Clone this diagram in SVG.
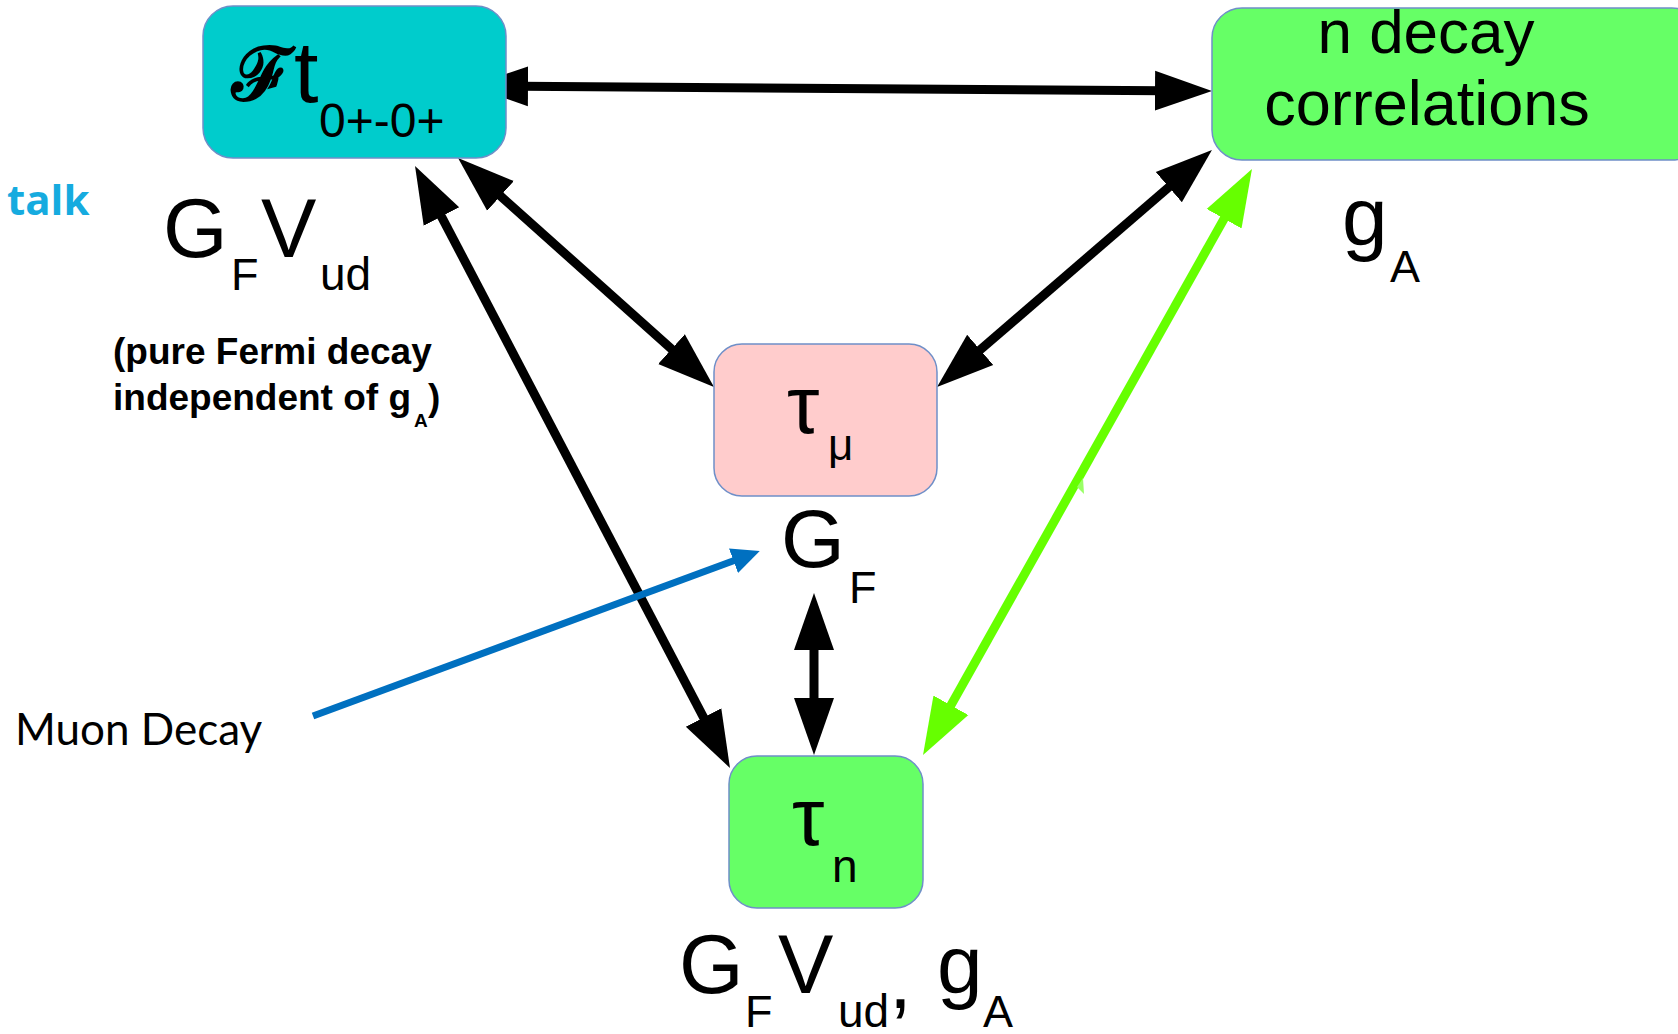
<svg xmlns="http://www.w3.org/2000/svg" width="1678" height="1034" viewBox="0 0 1678 1034">
<style>
.box{stroke:#6F8FC8;stroke-width:1.5}
.t{font-family:"Liberation Sans",Arial,sans-serif;fill:#000}
.blk{stroke:#000;stroke-width:9;fill:none}
.grn{stroke:#66FF00;stroke-width:9;fill:none}
.blu{stroke:#0070C0;stroke-width:7;fill:none}
.cal{font-family:Lato,"Open Sans",sans-serif}
</style>
<defs>
<marker id="ah" markerUnits="userSpaceOnUse" markerWidth="64" markerHeight="46" viewBox="0 -23 64 46" refX="7" refY="0" orient="auto-start-reverse">
<path d="M0,-20 L57,0 L0,20 z" fill="#000"/>
</marker>
<marker id="ahg" markerUnits="userSpaceOnUse" markerWidth="64" markerHeight="46" viewBox="0 -23 64 46" refX="7" refY="0" orient="auto-start-reverse">
<path d="M0,-20 L57,0 L0,20 z" fill="#66FF00"/>
</marker>
<marker id="ahb" markerUnits="userSpaceOnUse" markerWidth="36" markerHeight="32" viewBox="0 -16 36 32" refX="8" refY="0" orient="auto">
<path d="M0,-13 L28,0 L0,13 z" fill="#0070C0"/>
</marker>
</defs>
<rect width="1678" height="1034" fill="#fff"/>

<g id="connectors">
<line class="blk" x1="521" y1="86.3" x2="1162" y2="90.7" marker-start="url(#ah)" marker-end="url(#ah)"/>
<line class="blk" x1="495.3" y1="191.3" x2="676.7" y2="353.7" marker-start="url(#ah)" marker-end="url(#ah)"/>
<line class="blk" x1="438.2" y1="210.3" x2="706.8" y2="723.7" marker-start="url(#ah)" marker-end="url(#ah)"/>
<line class="blk" x1="1174.1" y1="182.6" x2="974.9" y2="354.4" marker-start="url(#ah)" marker-end="url(#ah)"/>
<line class="blk" x1="814" y1="643" x2="814" y2="705" marker-start="url(#ah)" marker-end="url(#ah)"/>
<line class="grn" x1="1227.5" y1="212.6" x2="947.5" y2="711.4" marker-start="url(#ahg)" marker-end="url(#ahg)"/>
<polygon points="1077,487 1083,478 1084,494" fill="#99FF66"/>
<line class="blu" x1="313" y1="716" x2="741" y2="558" marker-end="url(#ahb)"/>
</g>

<g id="node-ft">
<rect class="box" x="203" y="6" width="303" height="152" rx="30" fill="#00CCCC"/>
<text class="t" font-family="DejaVu Sans" x="232" y="100" font-size="74" font-weight="bold">ℱ</text>
<text class="t" x="294" y="102" font-size="88">t</text>
<text class="t" x="319" y="137" font-size="48">0+-0+</text>
</g>

<g id="node-ndecay">
<rect class="box" x="1212" y="8" width="490" height="152" rx="30" fill="#66FF66"/>
<text class="t" x="1426" y="53" font-size="62" text-anchor="middle">n decay</text>
<text class="t" x="1427" y="125" font-size="63" text-anchor="middle">correlations</text>
</g>

<g id="node-taumu">
<rect class="box" x="714" y="344" width="223" height="152" rx="28" fill="#FFCCCC"/>
<text class="t" x="787" y="433" font-size="82">τ</text>
<text class="t" x="828" y="460" font-size="44">μ</text>
</g>

<g id="node-taun">
<rect class="box" x="729" y="756" width="194" height="152" rx="28" fill="#66FF66"/>
<text class="t" x="792" y="845" font-size="82">τ</text>
<text class="t" x="832" y="882" font-size="46">n</text>
</g>

<g id="label-gfvud-left">
<text class="t" x="163" y="257" font-size="83">G</text>
<text class="t" x="231" y="290" font-size="45">F</text>
<text class="t" x="261" y="257" font-size="83">V</text>
<text class="t" x="320" y="290" font-size="46">ud</text>
</g>

<g id="label-note">
<text class="t" x="113" y="364" font-size="37" font-weight="bold">(pure Fermi decay</text>
<text class="t" x="113" y="410" font-size="37" font-weight="bold">independent of g</text>
<text class="t" x="414" y="427" font-size="19" font-weight="bold">A</text>
<text class="t" x="428" y="410" font-size="37" font-weight="bold">)</text>
</g>

<g id="label-ga-right">
<text class="t" x="1342" y="245" font-size="82">g</text>
<text class="t" x="1390" y="282" font-size="45">A</text>
</g>

<g id="label-gf-mid">
<text class="t" x="781" y="567" font-size="82">G</text>
<text class="t" x="849" y="603" font-size="45">F</text>
</g>

<g id="label-bottom">
<text class="t" x="679" y="993" font-size="83">G</text>
<text class="t" x="745" y="1027" font-size="45">F</text>
<text class="t" x="778" y="993" font-size="83">V</text>
<text class="t" x="838" y="1027" font-size="46">ud</text>
<text class="t" x="889" y="1008" font-size="82">,</text>
<text class="t" x="937" y="993" font-size="82">g</text>
<text class="t" x="983" y="1027" font-size="45">A</text>
</g>

<text font-family="'Open Sans',Lato,sans-serif" x="7" y="215" font-size="42" font-weight="bold" fill="#16ABDF">talk</text>
<text class="cal" x="15" y="745" font-size="44" fill="#000">Muon Decay</text>
</svg>
